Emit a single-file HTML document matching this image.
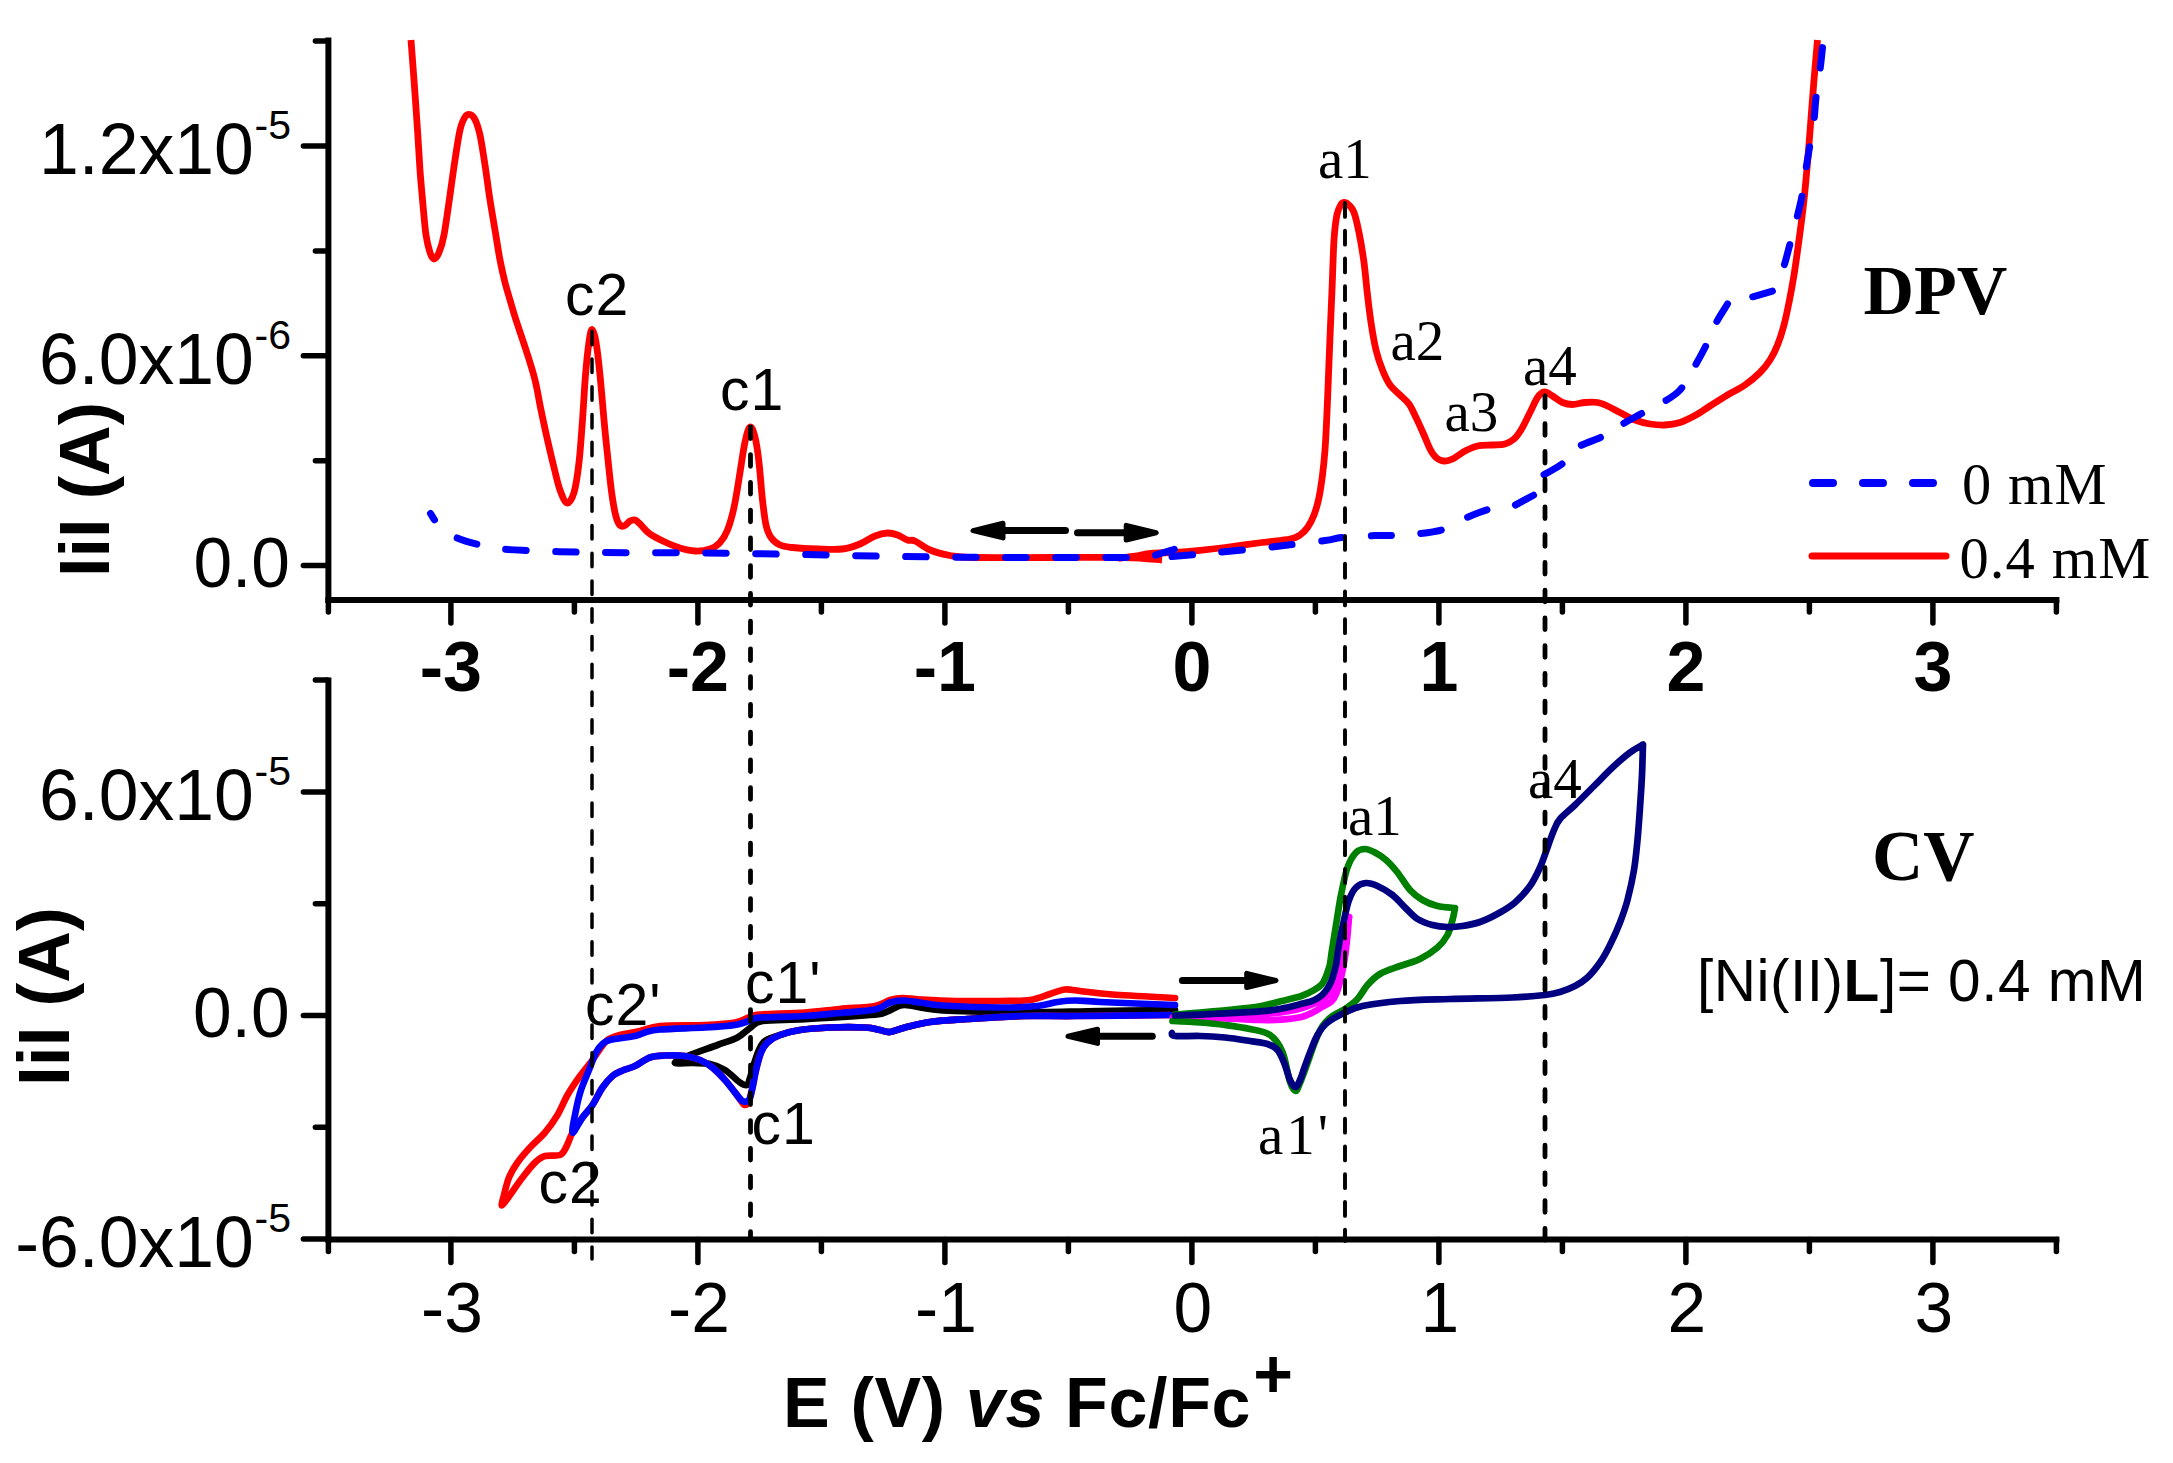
<!DOCTYPE html>
<html><head><meta charset="utf-8"><title>DPV and CV</title>
<style>html,body{margin:0;padding:0;background:#fff}svg{display:block}</style></head>
<body>
<svg width="2173" height="1463" viewBox="0 0 2173 1463">
<rect width="2173" height="1463" fill="#fff"/>
<g stroke="#000" stroke-width="6" fill="none" stroke-linecap="butt">
<path d="M328.4 37.5 V603.0"/>
<path d="M325.4 600.0 H2059.4"/>
<path d="M328.4 677.5 V1242.5"/>
<path d="M325.4 1239.5 H2059.4"/>
</g>
<g stroke="#000" stroke-width="5.5" fill="none" stroke-linecap="round">
<path d="M328.4 600.0 V612.0"/>
<path d="M450.9 600.0 V623.0"/>
<path d="M574.4 600.0 V612.0"/>
<path d="M697.9 600.0 V623.0"/>
<path d="M821.4 600.0 V612.0"/>
<path d="M944.9 600.0 V623.0"/>
<path d="M1068.4 600.0 V612.0"/>
<path d="M1191.9 600.0 V623.0"/>
<path d="M1315.4 600.0 V612.0"/>
<path d="M1438.9 600.0 V623.0"/>
<path d="M1562.4 600.0 V612.0"/>
<path d="M1685.9 600.0 V623.0"/>
<path d="M1809.4 600.0 V612.0"/>
<path d="M1932.9 600.0 V623.0"/>
<path d="M2056.4 600.0 V612.0"/>
<path d="M328.4 1239.5 V1251.5"/>
<path d="M450.9 1239.5 V1262.5"/>
<path d="M574.4 1239.5 V1251.5"/>
<path d="M697.9 1239.5 V1262.5"/>
<path d="M821.4 1239.5 V1251.5"/>
<path d="M944.9 1239.5 V1262.5"/>
<path d="M1068.4 1239.5 V1251.5"/>
<path d="M1191.9 1239.5 V1262.5"/>
<path d="M1315.4 1239.5 V1251.5"/>
<path d="M1438.9 1239.5 V1262.5"/>
<path d="M1562.4 1239.5 V1251.5"/>
<path d="M1685.9 1239.5 V1262.5"/>
<path d="M1809.4 1239.5 V1251.5"/>
<path d="M1932.9 1239.5 V1262.5"/>
<path d="M2056.4 1239.5 V1251.5"/>
<path d="M327.4 565.6 H303.4"/>
<path d="M327.4 460.7 H315.4"/>
<path d="M327.4 355.8 H303.4"/>
<path d="M327.4 250.9 H315.4"/>
<path d="M327.4 146.0 H303.4"/>
<path d="M327.4 41.1 H315.4"/>
<path d="M327.4 1239.1 H303.4"/>
<path d="M327.4 1127.3 H315.4"/>
<path d="M327.4 1015.5 H303.4"/>
<path d="M327.4 903.7 H315.4"/>
<path d="M327.4 791.9 H303.4"/>
<path d="M327.4 680.1 H315.4"/>
</g>
<g stroke="#ff0000" stroke-width="6.8" fill="none" stroke-linejoin="round">
<path d="M411.0 40.0C411.5 46.7 412.9 65.0 414.0 80.0C415.1 95.0 416.5 115.0 417.5 130.0C418.5 145.0 419.1 157.5 420.0 170.0C420.9 182.5 422.0 194.2 423.0 205.0C424.0 215.8 424.8 227.1 426.0 235.0C427.2 242.9 428.7 248.5 430.0 252.5C431.3 256.5 432.5 259.0 434.0 259.0C435.5 259.0 437.3 256.5 439.0 252.5C440.7 248.5 442.2 244.6 444.0 235.0C445.8 225.4 448.2 207.5 450.0 195.0C451.8 182.5 453.3 170.8 455.0 160.0C456.7 149.2 458.3 137.2 460.0 130.0C461.7 122.8 463.3 119.6 465.0 117.0C466.7 114.4 468.3 114.1 470.0 114.5C471.7 114.9 473.3 116.1 475.0 119.5C476.7 122.9 478.3 127.4 480.0 135.0C481.7 142.6 483.3 154.2 485.0 165.0C486.7 175.8 488.3 189.2 490.0 200.0C491.7 210.8 493.3 220.0 495.0 230.0C496.7 240.0 498.3 251.2 500.0 260.0C501.7 268.8 503.3 275.8 505.0 282.5C506.7 289.2 508.2 293.8 510.0 300.0C511.8 306.2 513.3 311.7 516.0 320.0C518.7 328.3 522.8 340.0 526.0 350.0C529.2 360.0 532.5 370.0 535.0 380.0C537.5 390.0 538.9 400.0 541.0 410.0C543.1 420.0 545.3 430.4 547.5 440.0C549.7 449.6 551.9 459.2 554.0 467.5C556.1 475.8 557.8 484.1 560.0 490.0C562.2 495.9 564.7 502.6 567.0 503.0C569.3 503.4 572.0 499.2 574.0 492.5C576.0 485.8 577.6 474.6 579.0 462.5C580.4 450.4 581.4 434.6 582.5 420.0C583.6 405.4 584.4 388.0 585.5 375.0C586.6 362.0 587.9 349.6 589.0 342.0C590.1 334.4 590.8 329.5 592.0 329.5C593.2 329.5 594.7 334.4 596.0 342.0C597.3 349.6 598.7 362.0 600.0 375.0C601.3 388.0 602.8 406.7 604.0 420.0C605.2 433.3 606.3 443.8 607.5 455.0C608.7 466.2 609.8 477.9 611.0 487.5C612.2 497.1 613.7 506.4 615.0 512.5C616.3 518.6 617.5 521.8 619.0 524.0C620.5 526.2 622.2 526.5 624.0 526.0C625.8 525.5 628.2 522.0 630.0 521.0C631.8 520.0 633.3 519.5 635.0 520.0C636.7 520.5 637.5 521.7 640.0 524.0C642.5 526.3 645.8 531.0 650.0 534.0C654.2 537.0 660.0 539.7 665.0 542.0C670.0 544.3 675.0 546.5 680.0 548.0C685.0 549.5 690.0 550.8 695.0 551.0C700.0 551.2 705.8 550.4 710.0 549.0C714.2 547.6 717.1 545.7 720.0 542.5C722.9 539.3 725.2 535.8 727.5 530.0C729.8 524.2 731.9 517.1 734.0 507.5C736.1 497.9 738.2 483.4 740.0 472.5C741.8 461.6 743.3 449.6 745.0 442.0C746.7 434.4 748.3 427.8 750.0 427.0C751.7 426.2 753.5 431.1 755.0 437.0C756.5 442.9 757.8 452.0 759.0 462.5C760.2 473.0 761.3 489.6 762.5 500.0C763.7 510.4 764.6 518.8 766.0 525.0C767.4 531.2 768.7 534.2 771.0 537.5C773.3 540.8 776.4 543.3 780.0 545.0C783.6 546.7 786.2 546.8 792.5 547.5C798.8 548.2 809.2 548.8 817.5 549.0C825.8 549.2 835.4 549.8 842.5 549.0C849.6 548.2 854.6 546.2 860.0 544.0C865.4 541.8 870.4 537.8 875.0 536.0C879.6 534.2 883.8 533.2 887.5 533.0C891.2 532.8 894.2 533.8 897.5 535.0C900.8 536.2 904.6 539.0 907.5 540.0C910.4 541.0 911.2 539.3 915.0 541.0C918.8 542.7 924.2 547.6 930.0 550.0C935.8 552.4 942.5 554.2 950.0 555.5C957.5 556.8 958.3 557.2 975.0 557.5C991.7 557.8 1025.0 557.5 1050.0 557.5C1075.0 557.5 1106.3 557.1 1125.0 557.5C1143.7 557.9 1155.8 559.6 1162.0 560.0"/>
<path d="M1118.0 558.3C1120.8 557.9 1129.5 557.0 1135.0 556.2C1140.5 555.4 1144.3 554.0 1151.0 553.4C1157.7 552.8 1166.8 552.8 1175.0 552.3C1183.2 551.8 1191.7 551.1 1200.0 550.3C1208.3 549.5 1214.7 548.8 1225.0 547.5C1235.3 546.2 1251.2 543.9 1262.0 542.5C1272.8 541.1 1283.7 540.2 1290.0 539.0C1296.3 537.8 1297.1 536.9 1300.0 535.0C1302.9 533.1 1305.2 530.8 1307.5 527.5C1309.8 524.2 1312.1 520.0 1314.0 515.0C1315.9 510.0 1317.6 504.2 1319.0 497.5C1320.4 490.8 1321.5 482.9 1322.5 475.0C1323.5 467.1 1324.2 460.4 1325.0 450.0C1325.8 439.6 1326.4 425.0 1327.0 412.5C1327.6 400.0 1328.0 387.5 1328.5 375.0C1329.0 362.5 1329.4 351.7 1330.0 337.5C1330.6 323.3 1331.3 306.2 1332.0 290.0C1332.7 273.8 1333.2 252.6 1334.0 240.0C1334.8 227.4 1335.8 220.4 1337.0 214.5C1338.2 208.6 1339.8 206.5 1341.0 204.5C1342.2 202.5 1343.2 202.4 1344.5 202.5C1345.8 202.6 1347.4 203.3 1349.0 205.0C1350.6 206.7 1352.3 207.9 1354.0 212.5C1355.7 217.1 1357.3 224.2 1359.0 232.5C1360.7 240.8 1362.6 252.1 1364.0 262.5C1365.4 272.9 1366.3 285.0 1367.5 295.0C1368.7 305.0 1369.6 313.3 1371.0 322.5C1372.4 331.7 1374.1 342.1 1376.0 350.0C1377.9 357.9 1380.2 364.2 1382.5 370.0C1384.8 375.8 1387.1 380.8 1390.0 385.0C1392.9 389.2 1396.8 391.8 1400.0 395.0C1403.2 398.2 1406.3 400.2 1409.0 404.0C1411.7 407.8 1413.5 412.3 1416.0 417.5C1418.5 422.7 1421.7 429.8 1424.0 435.0C1426.3 440.2 1428.0 445.2 1430.0 449.0C1432.0 452.8 1433.7 455.5 1436.0 457.5C1438.3 459.5 1441.2 460.8 1444.0 461.0C1446.8 461.2 1449.0 460.7 1452.5 459.0C1456.0 457.3 1460.8 453.2 1465.0 451.0C1469.2 448.8 1472.9 447.0 1477.5 446.0C1482.1 445.0 1487.9 445.3 1492.5 445.0C1497.1 444.7 1501.4 445.0 1505.0 444.0C1508.6 443.0 1511.3 441.3 1514.0 439.0C1516.7 436.7 1518.3 434.4 1521.0 430.0C1523.7 425.6 1527.2 417.9 1530.0 412.5C1532.8 407.1 1535.1 400.9 1537.5 397.5C1539.9 394.1 1542.0 392.2 1544.5 392.0C1547.0 391.8 1549.5 394.2 1552.5 396.0C1555.5 397.8 1559.2 401.1 1562.5 402.5C1565.8 403.9 1568.8 404.5 1572.5 404.5C1576.2 404.5 1580.8 402.8 1585.0 402.5C1589.2 402.2 1593.8 401.9 1597.5 402.5C1601.2 403.1 1603.8 404.3 1607.5 406.0C1611.2 407.7 1615.4 410.2 1620.0 412.5C1624.6 414.8 1630.0 418.1 1635.0 420.0C1640.0 421.9 1645.0 423.2 1650.0 424.0C1655.0 424.8 1660.0 425.2 1665.0 425.0C1670.0 424.8 1675.0 424.1 1680.0 422.5C1685.0 420.9 1690.0 418.2 1695.0 415.5C1700.0 412.8 1704.6 409.4 1710.0 406.0C1715.4 402.6 1721.7 398.5 1727.5 395.0C1733.3 391.5 1739.6 388.8 1745.0 385.0C1750.4 381.2 1755.8 376.7 1760.0 372.5C1764.2 368.3 1767.1 364.6 1770.0 360.0C1772.9 355.4 1775.2 350.8 1777.5 345.0C1779.8 339.2 1782.1 332.1 1784.0 325.0C1785.9 317.9 1787.3 310.8 1789.0 302.5C1790.7 294.2 1792.3 285.4 1794.0 275.0C1795.7 264.6 1797.3 252.5 1799.0 240.0C1800.7 227.5 1802.6 212.9 1804.0 200.0C1805.4 187.1 1806.4 175.0 1807.5 162.5C1808.6 150.0 1809.4 138.8 1810.5 125.0C1811.6 111.2 1812.8 94.2 1814.0 80.0C1815.2 65.8 1816.9 46.7 1817.5 40.0"/>
</g>
<g stroke="#0000ff" stroke-width="7" fill="none" stroke-linecap="round" stroke-linejoin="round" stroke-dasharray="20.5 29.5" stroke-dashoffset="-3.25">
<path d="M1174.3 549.3C1172.2 549.9 1166.2 551.8 1162.0 553.0C1157.8 554.2 1153.5 556.0 1149.0 556.7C1144.5 557.5 1143.2 557.4 1135.0 557.5C1126.8 557.6 1122.5 557.5 1100.0 557.5C1077.5 557.5 1033.3 557.7 1000.0 557.5C966.7 557.3 933.3 557.0 900.0 556.5C866.7 556.0 833.3 555.1 800.0 554.5C766.7 553.9 733.3 553.3 700.0 553.0C666.7 552.7 624.3 552.8 600.0 552.5C575.7 552.2 566.1 551.8 554.0 551.5C541.9 551.2 536.1 550.9 527.5 550.5C518.9 550.1 510.4 549.9 502.5 549.0C494.6 548.1 487.8 546.9 480.0 545.0C472.2 543.1 462.7 540.5 456.0 537.5C449.3 534.5 444.2 531.0 440.0 527.0C435.8 523.0 432.1 515.8 430.5 513.5" stroke-dashoffset="0.75"/>
<path d="M1171.0 556.7C1175.0 556.3 1184.8 555.5 1195.0 554.5C1205.2 553.5 1217.8 552.4 1232.0 551.0C1246.2 549.6 1264.5 547.8 1280.0 546.0C1295.5 544.2 1314.7 541.9 1325.0 540.5C1335.3 539.1 1333.7 538.3 1342.0 537.5C1350.3 536.7 1366.5 536.0 1375.0 535.6C1383.5 535.2 1386.2 535.7 1393.0 535.4C1399.8 535.1 1407.7 535.0 1416.0 534.0C1424.3 533.0 1435.3 531.9 1443.0 529.5C1450.7 527.1 1454.2 523.0 1462.0 519.6C1469.8 516.2 1482.1 511.0 1489.8 509.1C1497.5 507.2 1501.5 510.0 1508.0 508.1C1514.5 506.2 1524.5 499.9 1529.0 497.6C1533.5 495.3 1534.0 495.0 1535.0 494.5" stroke-dashoffset="-1.25"/>
<path d="M1541.4 476.0C1545.0 473.9 1557.1 467.9 1563.0 463.2C1568.9 458.5 1570.2 452.3 1576.8 447.8C1583.4 443.3 1595.0 440.4 1602.7 436.4C1610.4 432.4 1616.6 427.6 1622.8 423.9C1629.0 420.2 1633.4 418.0 1640.0 414.4C1646.6 410.8 1655.8 406.6 1662.5 402.5C1669.2 398.4 1674.8 395.8 1680.0 390.0C1685.2 384.2 1689.8 374.6 1694.0 367.5C1698.2 360.4 1701.3 354.9 1705.0 347.5C1708.7 340.1 1712.2 330.2 1716.0 323.0C1719.8 315.8 1725.6 307.2 1727.5 304.0" stroke-dasharray="20.5 27.4"/>
<path d="M1727.5 304.0L1773.0 291.0L1773.0 291.0C1774.2 288.3 1778.2 279.2 1780.0 275.0C1781.8 270.8 1782.3 271.2 1784.0 266.0C1785.7 260.8 1787.8 252.1 1790.0 244.0C1792.2 235.9 1795.0 225.5 1797.0 217.5C1799.0 209.5 1800.5 204.1 1802.0 196.0C1803.5 187.9 1804.8 177.1 1806.0 169.0C1807.2 160.9 1808.2 155.7 1809.5 147.5C1810.8 139.3 1812.9 128.3 1814.0 120.0C1815.1 111.7 1815.0 105.8 1816.0 97.5C1817.0 89.2 1818.9 78.3 1820.0 70.0C1821.1 61.7 1822.1 51.2 1822.5 47.5" stroke-dashoffset="23.75"/>
</g>
<path d="M1813 483 H1940" stroke="#0000ff" stroke-width="8" stroke-linecap="round" stroke-dasharray="20 30" fill="none"/>
<path d="M1812 556 H1946" stroke="#ff0000" stroke-width="7" stroke-linecap="round" fill="none"/>
<path d="M1065.5 530.6 H1003.5" stroke="#000" stroke-width="7" stroke-linecap="round" fill="none"/><path d="M973.0 530.6 L1003.0 523.3 L1003.0 537.9 Z" fill="#000" stroke="#000" stroke-width="5" stroke-linejoin="round"/>
<path d="M1077.5 532.7 H1125.7" stroke="#000" stroke-width="7" stroke-linecap="round" fill="none"/><path d="M1156.2 532.7 L1126.2 525.4 L1126.2 540.0 Z" fill="#000" stroke="#000" stroke-width="5" stroke-linejoin="round"/>
<path d="M1182.4 980.5 H1246.2" stroke="#000" stroke-width="7" stroke-linecap="round" fill="none"/><path d="M1276.0 980.5 L1246.7 973.4 L1246.7 987.6 Z" fill="#000" stroke="#000" stroke-width="5" stroke-linejoin="round"/>
<path d="M1152.3 1036.3 H1098.0" stroke="#000" stroke-width="7" stroke-linecap="round" fill="none"/><path d="M1068.0 1036.3 L1097.5 1029.2 L1097.5 1043.4 Z" fill="#000" stroke="#000" stroke-width="5" stroke-linejoin="round"/>
<g fill="none" stroke-width="6.7" stroke-linejoin="round" stroke-linecap="round">
<path d="M1175.0 1012.0C1162.5 1012.3 1125.3 1013.3 1100.0 1014.0C1074.7 1014.7 1045.1 1015.2 1023.0 1016.0C1000.9 1016.8 983.0 1018.0 967.5 1019.0C952.0 1020.0 940.4 1020.6 930.0 1022.0C919.6 1023.4 911.7 1025.8 905.0 1027.5C898.3 1029.2 894.2 1031.6 890.0 1032.0C885.8 1032.4 884.2 1030.8 880.0 1030.0C875.8 1029.2 873.3 1027.9 865.0 1027.5C856.7 1027.1 840.8 1027.1 830.0 1027.5C819.2 1027.9 808.3 1028.8 800.0 1030.0C791.7 1031.2 785.8 1033.2 780.0 1035.0C774.2 1036.8 768.5 1038.5 765.0 1041.0C761.5 1043.5 760.8 1046.2 759.0 1050.0C757.2 1053.8 755.5 1059.3 754.0 1064.0C752.5 1068.7 751.2 1074.5 750.0 1078.0C748.8 1081.5 748.7 1084.2 747.0 1085.0C745.3 1085.8 743.7 1085.0 740.0 1082.5C736.3 1080.0 730.0 1073.1 725.0 1070.0C720.0 1066.9 715.4 1065.2 710.0 1064.0C704.6 1062.8 698.3 1063.2 692.5 1063.0C686.7 1062.8 675.8 1064.2 675.0 1063.0C674.2 1061.8 680.4 1059.0 687.5 1056.0C694.6 1053.0 709.2 1048.1 717.5 1045.0C725.8 1041.9 732.1 1040.3 737.5 1037.5C742.9 1034.7 745.8 1030.8 750.0 1028.0C754.2 1025.2 753.3 1022.5 762.5 1021.0C771.7 1019.5 787.1 1020.2 805.0 1019.2C822.9 1018.2 856.7 1016.1 870.0 1015.0C883.3 1013.9 880.0 1014.1 885.0 1012.5C890.0 1010.9 895.8 1006.7 900.0 1005.5C904.2 1004.3 905.0 1004.9 910.0 1005.5C915.0 1006.1 922.5 1008.1 930.0 1009.0C937.5 1009.9 939.5 1010.4 955.0 1011.0C970.5 1011.6 998.8 1012.5 1023.0 1012.5C1047.2 1012.5 1074.7 1011.4 1100.0 1011.0C1125.3 1010.6 1162.5 1010.2 1175.0 1010.0" stroke="#000"/>
<path d="M1175.0 998.0C1164.6 997.4 1128.3 995.7 1112.5 994.5C1096.7 993.3 1087.9 991.8 1080.0 991.0C1072.1 990.2 1070.0 989.0 1065.0 989.5C1060.0 990.0 1055.8 992.2 1050.0 994.0C1044.2 995.8 1038.3 998.8 1030.0 1000.0C1021.7 1001.2 1012.5 1000.8 1000.0 1001.0C987.5 1001.2 968.3 1001.2 955.0 1001.0C941.7 1000.8 928.8 1000.0 920.0 999.5C911.2 999.0 907.5 997.9 902.5 998.0C897.5 998.1 894.6 998.7 890.0 1000.0C885.4 1001.3 883.3 1004.5 875.0 1006.0C866.7 1007.5 851.7 1007.9 840.0 1009.0C828.3 1010.1 818.3 1011.6 805.0 1012.5C791.7 1013.4 769.2 1013.8 760.0 1014.5C750.8 1015.2 754.2 1015.7 750.0 1017.0C745.8 1018.3 742.5 1021.2 735.0 1022.5C727.5 1023.8 717.5 1024.4 705.0 1025.0C692.5 1025.6 670.8 1025.0 660.0 1026.0C649.2 1027.0 646.7 1029.5 640.0 1031.0C633.3 1032.5 625.4 1033.5 620.0 1035.0C614.6 1036.5 610.8 1037.7 607.5 1040.0C604.2 1042.3 602.5 1045.7 600.0 1049.0C597.5 1052.3 595.8 1055.5 592.5 1060.0C589.2 1064.5 584.2 1070.2 580.0 1076.0C575.8 1081.8 571.2 1088.5 567.5 1095.0C563.8 1101.5 561.2 1108.8 557.5 1115.0C553.8 1121.2 549.6 1127.1 545.0 1132.5C540.4 1137.9 534.6 1142.5 530.0 1147.5C525.4 1152.5 521.0 1157.5 517.5 1162.5C514.0 1167.5 511.2 1172.1 509.0 1177.5C506.8 1182.9 505.2 1190.3 504.0 1195.0C502.8 1199.7 501.0 1205.5 502.0 1205.5C503.0 1205.5 506.6 1199.7 510.0 1195.0C513.4 1190.3 518.3 1182.9 522.5 1177.5C526.7 1172.1 531.2 1166.1 535.0 1162.5C538.8 1158.9 540.8 1157.2 545.0 1156.0C549.2 1154.8 556.5 1156.4 560.0 1155.0C563.5 1153.6 563.9 1151.2 566.0 1147.5C568.1 1143.8 569.8 1137.5 572.5 1132.5C575.2 1127.5 579.2 1122.1 582.5 1117.5C585.8 1112.9 589.2 1110.0 592.5 1105.0C595.8 1100.0 599.2 1092.3 602.5 1087.5C605.8 1082.7 609.2 1078.8 612.5 1076.0C615.8 1073.2 618.8 1072.2 622.5 1070.5C626.2 1068.8 630.4 1068.2 635.0 1066.0C639.6 1063.8 645.0 1059.2 650.0 1057.5C655.0 1055.8 659.2 1055.8 665.0 1055.5C670.8 1055.2 679.2 1055.2 685.0 1056.0C690.8 1056.8 695.4 1058.1 700.0 1060.0C704.6 1061.9 708.3 1064.2 712.5 1067.5C716.7 1070.8 721.2 1075.8 725.0 1080.0C728.8 1084.2 732.3 1089.0 735.0 1092.5C737.7 1096.0 739.3 1098.9 741.0 1101.0C742.7 1103.1 743.7 1105.0 745.0 1105.0C746.3 1105.0 747.8 1103.9 749.0 1101.0C750.2 1098.1 751.3 1092.7 752.5 1087.5C753.7 1082.3 754.6 1075.8 756.0 1070.0C757.4 1064.2 759.1 1057.1 761.0 1052.5C762.9 1047.9 764.3 1045.4 767.5 1042.5C770.7 1039.6 774.6 1037.1 780.0 1035.0C785.4 1032.9 791.7 1031.2 800.0 1030.0C808.3 1028.8 819.2 1027.9 830.0 1027.5C840.8 1027.1 856.7 1027.1 865.0 1027.5C873.3 1027.9 875.8 1029.2 880.0 1030.0C884.2 1030.8 885.8 1032.4 890.0 1032.0C894.2 1031.6 898.3 1029.2 905.0 1027.5C911.7 1025.8 919.6 1023.4 930.0 1022.0C940.4 1020.6 952.0 1020.0 967.5 1019.0C983.0 1018.0 1005.1 1016.5 1023.0 1016.0C1040.9 1015.5 1050.5 1016.2 1075.0 1016.0C1099.5 1015.8 1154.2 1015.2 1170.0 1015.0" stroke="#ff0000"/>
<path d="M1175.0 1005.0C1162.5 1004.5 1116.7 1002.8 1100.0 1002.0C1083.3 1001.2 1082.1 1000.5 1075.0 1000.5C1067.9 1000.5 1063.8 1001.1 1057.5 1002.0C1051.2 1002.9 1047.1 1005.1 1037.5 1006.0C1027.9 1006.9 1015.8 1007.6 1000.0 1007.5C984.2 1007.4 955.8 1006.3 942.5 1005.5C929.2 1004.7 926.7 1003.3 920.0 1002.5C913.3 1001.7 907.5 1000.5 902.5 1000.5C897.5 1000.5 894.6 1001.0 890.0 1002.5C885.4 1004.0 883.3 1007.8 875.0 1009.5C866.7 1011.2 851.7 1011.9 840.0 1013.0C828.3 1014.1 818.3 1015.2 805.0 1016.0C791.7 1016.8 769.2 1016.8 760.0 1017.5C750.8 1018.2 754.2 1019.2 750.0 1020.5C745.8 1021.8 742.5 1023.8 735.0 1025.0C727.5 1026.2 717.5 1026.8 705.0 1027.5C692.5 1028.2 670.0 1028.7 660.0 1029.5C650.0 1030.3 649.2 1031.4 645.0 1032.5C640.8 1033.6 640.8 1034.8 635.0 1036.0C629.2 1037.2 615.4 1038.7 610.0 1040.0C604.6 1041.3 604.8 1041.9 602.5 1044.0C600.2 1046.1 598.2 1048.2 596.0 1052.5C593.8 1056.8 591.5 1063.8 589.0 1070.0C586.5 1076.2 583.2 1083.3 581.0 1090.0C578.8 1096.7 577.4 1102.9 576.0 1110.0C574.6 1117.1 571.4 1131.2 572.5 1132.5C573.6 1133.8 579.2 1122.1 582.5 1117.5C585.8 1112.9 589.2 1110.0 592.5 1105.0C595.8 1100.0 599.2 1092.3 602.5 1087.5C605.8 1082.7 609.2 1078.8 612.5 1076.0C615.8 1073.2 618.8 1072.2 622.5 1070.5C626.2 1068.8 630.4 1068.2 635.0 1066.0C639.6 1063.8 645.0 1059.2 650.0 1057.5C655.0 1055.8 659.2 1055.8 665.0 1055.5C670.8 1055.2 679.2 1055.2 685.0 1056.0C690.8 1056.8 695.4 1058.1 700.0 1060.0C704.6 1061.9 708.3 1064.2 712.5 1067.5C716.7 1070.8 721.2 1075.8 725.0 1080.0C728.8 1084.2 732.1 1089.0 735.0 1092.5C737.9 1096.0 740.2 1099.8 742.5 1101.0C744.8 1102.2 747.3 1102.2 749.0 1100.0C750.7 1097.8 751.3 1092.5 752.5 1087.5C753.7 1082.5 754.6 1075.8 756.0 1070.0C757.4 1064.2 759.1 1057.1 761.0 1052.5C762.9 1047.9 764.3 1045.4 767.5 1042.5C770.7 1039.6 774.6 1037.1 780.0 1035.0C785.4 1032.9 791.7 1031.2 800.0 1030.0C808.3 1028.8 819.2 1027.9 830.0 1027.5C840.8 1027.1 856.7 1027.1 865.0 1027.5C873.3 1027.9 875.8 1029.2 880.0 1030.0C884.2 1030.8 885.8 1032.4 890.0 1032.0C894.2 1031.6 898.3 1029.2 905.0 1027.5C911.7 1025.8 919.6 1023.4 930.0 1022.0C940.4 1020.6 952.0 1020.0 967.5 1019.0C983.0 1018.0 1005.1 1016.5 1023.0 1016.0C1040.9 1015.5 1050.5 1016.2 1075.0 1016.0C1099.5 1015.8 1154.2 1015.2 1170.0 1015.0" stroke="#0000ff"/>
<path d="M1173.0 1017.5C1181.7 1017.2 1210.5 1016.6 1225.0 1016.0C1239.5 1015.4 1250.7 1014.6 1260.0 1014.0C1269.3 1013.4 1273.8 1013.4 1280.7 1012.4C1287.6 1011.4 1295.9 1009.8 1301.4 1008.3C1306.9 1006.8 1310.5 1005.1 1313.9 1003.7C1317.4 1002.3 1319.7 1001.4 1322.1 1000.0C1324.5 998.6 1326.3 997.5 1328.4 995.2C1330.5 993.0 1333.0 989.3 1334.6 986.5C1336.2 983.7 1336.9 981.3 1337.9 978.6C1338.9 975.9 1339.7 972.8 1340.4 970.4C1341.2 968.0 1341.8 967.4 1342.4 964.0C1343.0 960.6 1343.3 955.7 1344.0 950.0C1344.7 944.3 1345.7 935.5 1346.5 930.0C1347.3 924.5 1348.6 919.2 1349.0 917.0" stroke="#ff00ff"/>
<path d="M1349.0 917.0C1348.7 920.8 1347.8 932.8 1347.0 940.0C1346.2 947.2 1345.6 953.3 1344.5 960.0C1343.4 966.7 1341.8 974.5 1340.5 980.0C1339.2 985.5 1338.0 989.5 1336.5 993.1C1335.0 996.7 1333.9 999.1 1331.5 1001.4C1329.1 1003.7 1325.0 1005.1 1322.1 1006.8C1319.2 1008.5 1317.4 1010.1 1313.9 1011.8C1310.5 1013.5 1306.9 1015.7 1301.4 1017.0C1295.9 1018.3 1287.6 1019.2 1280.7 1019.7C1273.8 1020.2 1269.3 1020.2 1260.0 1020.0C1250.7 1019.8 1239.5 1018.9 1225.0 1018.5C1210.5 1018.1 1181.7 1017.7 1173.0 1017.5" stroke="#ff00ff"/>
<path d="M1175.0 1014.5C1179.2 1014.2 1190.8 1013.3 1200.0 1012.5C1209.2 1011.7 1220.0 1010.8 1230.0 1009.8C1240.0 1008.8 1251.5 1007.7 1260.0 1006.3C1268.5 1004.9 1273.8 1002.9 1280.7 1001.2C1287.6 999.5 1295.9 997.8 1301.4 996.0C1306.9 994.2 1310.5 992.2 1313.9 990.2C1317.4 988.2 1320.0 986.4 1322.1 984.0C1324.2 981.6 1325.2 978.1 1326.3 975.7C1327.3 973.3 1327.8 971.4 1328.4 969.5C1329.0 967.6 1329.4 967.4 1330.0 964.1C1330.6 960.9 1331.0 956.5 1332.0 950.0C1333.0 943.5 1334.5 934.2 1336.0 925.0C1337.5 915.8 1339.1 904.6 1341.0 895.0C1342.9 885.4 1345.0 874.6 1347.5 867.5C1350.0 860.4 1353.1 855.6 1356.0 852.5C1358.9 849.4 1361.8 849.0 1365.0 849.0C1368.2 849.0 1371.5 850.7 1375.0 852.5C1378.5 854.3 1382.2 856.7 1386.0 860.0C1389.8 863.3 1393.5 867.5 1397.5 872.5C1401.5 877.5 1405.8 885.4 1410.0 890.0C1414.2 894.6 1417.9 897.3 1422.5 900.0C1427.1 902.7 1432.1 904.7 1437.5 906.0C1442.9 907.3 1452.1 907.7 1455.0 908.0L1455.0 908.0C1454.6 910.0 1453.8 915.5 1452.5 920.0C1451.2 924.5 1450.0 930.4 1447.5 935.0C1445.0 939.6 1442.1 943.5 1437.5 947.5C1432.9 951.5 1426.2 955.9 1420.0 959.0C1413.8 962.1 1406.7 963.5 1400.0 966.0C1393.3 968.5 1385.4 970.8 1380.0 974.0C1374.6 977.2 1371.2 980.8 1367.5 985.0C1363.8 989.2 1361.2 995.0 1357.5 999.0C1353.8 1003.0 1349.2 1006.2 1345.0 1009.0C1340.8 1011.8 1336.2 1013.2 1332.5 1016.0C1328.8 1018.8 1325.4 1021.7 1322.5 1026.0C1319.6 1030.3 1317.5 1035.8 1315.0 1042.0C1312.5 1048.2 1310.0 1056.2 1307.5 1063.0C1305.0 1069.8 1302.0 1078.3 1300.0 1083.0C1298.0 1087.7 1297.2 1091.2 1295.5 1091.0C1293.8 1090.8 1292.2 1088.5 1290.0 1082.0C1287.8 1075.5 1285.8 1059.8 1282.5 1052.0C1279.2 1044.2 1275.4 1038.8 1270.0 1035.0C1264.6 1031.2 1257.5 1030.7 1250.0 1029.0C1242.5 1027.3 1233.3 1026.1 1225.0 1025.0C1216.7 1023.9 1208.8 1023.2 1200.0 1022.5C1191.2 1021.8 1177.1 1021.2 1172.5 1021.0" stroke="#008000"/>
<path d="M1175.0 1015.5C1179.2 1015.4 1190.8 1015.0 1200.0 1014.6C1209.2 1014.2 1220.0 1013.7 1230.0 1013.2C1240.0 1012.7 1251.5 1012.1 1260.0 1011.4C1268.5 1010.6 1273.8 1010.0 1280.7 1008.7C1287.6 1007.4 1295.9 1005.2 1301.4 1003.8C1306.9 1002.4 1310.5 1001.7 1313.9 1000.2C1317.4 998.7 1319.9 996.9 1322.1 995.0C1324.3 993.1 1325.7 991.0 1327.1 989.0C1328.5 987.0 1329.4 985.3 1330.4 983.2C1331.4 981.1 1332.2 978.7 1332.9 976.6C1333.6 974.5 1334.0 972.5 1334.6 970.4C1335.1 968.3 1335.5 968.3 1336.2 964.1C1336.9 959.9 1337.7 952.4 1339.0 945.0C1340.3 937.6 1342.3 927.5 1344.0 920.0C1345.7 912.5 1347.0 905.4 1349.0 900.0C1351.0 894.6 1353.2 890.3 1356.0 887.5C1358.8 884.7 1362.4 883.2 1366.0 883.0C1369.6 882.8 1373.1 884.0 1377.5 886.0C1381.9 888.0 1387.9 891.4 1392.5 895.0C1397.1 898.6 1400.8 903.5 1405.0 907.5C1409.2 911.5 1412.9 916.1 1417.5 919.0C1422.1 921.9 1427.5 923.7 1432.5 925.0C1437.5 926.3 1442.5 926.8 1447.5 927.0C1452.5 927.2 1457.1 926.8 1462.5 926.0C1467.9 925.2 1473.8 924.2 1480.0 922.0C1486.2 919.8 1494.2 915.8 1500.0 912.5C1505.8 909.2 1510.0 906.9 1515.0 902.5C1520.0 898.1 1525.8 891.8 1530.0 886.0C1534.2 880.2 1537.1 873.9 1540.0 867.5C1542.9 861.1 1545.2 853.8 1547.5 847.5C1549.8 841.2 1551.9 834.8 1554.0 830.0C1556.1 825.2 1556.5 823.2 1560.0 819.0C1563.5 814.8 1569.2 810.7 1575.0 805.0C1580.8 799.3 1588.8 791.2 1595.0 785.0C1601.2 778.8 1606.7 772.9 1612.5 767.5C1618.3 762.1 1624.9 756.3 1630.0 752.5C1635.1 748.7 1640.8 745.8 1643.0 744.5L1643.0 744.5C1642.8 749.6 1642.4 765.8 1642.0 775.0C1641.6 784.2 1641.2 789.2 1640.5 800.0C1639.8 810.8 1638.6 828.3 1637.5 840.0C1636.4 851.7 1635.7 860.0 1634.0 870.0C1632.3 880.0 1629.8 891.2 1627.5 900.0C1625.2 908.8 1622.9 915.0 1620.0 922.5C1617.1 930.0 1613.3 938.3 1610.0 945.0C1606.7 951.7 1603.8 957.1 1600.0 962.5C1596.2 967.9 1591.7 973.6 1587.5 977.5C1583.3 981.4 1579.6 983.6 1575.0 986.0C1570.4 988.4 1565.0 990.5 1560.0 992.0C1555.0 993.5 1552.9 994.1 1545.0 995.0C1537.1 995.9 1528.3 996.8 1512.5 997.5C1496.7 998.2 1468.8 998.4 1450.0 999.0C1431.2 999.6 1414.6 999.8 1400.0 1001.0C1385.4 1002.2 1371.7 1004.1 1362.5 1006.0C1353.3 1007.9 1350.8 1009.8 1345.0 1012.5C1339.2 1015.2 1332.1 1018.8 1327.5 1022.5C1322.9 1026.2 1320.4 1030.0 1317.5 1035.0C1314.6 1040.0 1312.1 1047.3 1310.0 1052.5C1307.9 1057.7 1306.7 1061.4 1305.0 1066.0C1303.3 1070.6 1301.6 1076.5 1300.0 1080.0C1298.4 1083.5 1297.2 1087.0 1295.5 1087.0C1293.8 1087.0 1291.9 1084.1 1290.0 1080.0C1288.1 1075.9 1286.1 1067.5 1284.0 1062.5C1281.9 1057.5 1280.2 1053.1 1277.5 1050.0C1274.8 1046.9 1272.1 1045.5 1267.5 1044.0C1262.9 1042.5 1257.1 1042.1 1250.0 1041.0C1242.9 1039.9 1233.3 1038.3 1225.0 1037.5C1216.7 1036.7 1208.3 1036.2 1200.0 1036.0C1191.7 1035.8 1179.7 1036.5 1175.0 1036.0C1170.3 1035.5 1172.5 1033.5 1172.0 1033.0" stroke="#000080"/>
</g>
<g stroke="#000" fill="none" stroke-linecap="round">
<path d="M592.0 331.2 V1259.0" stroke-width="3.5" stroke-dasharray="13.50 14.25"/>
<path d="M750.5 426.9 V1237.0" stroke-width="4.8" stroke-dasharray="11.70 16.05"/>
<path d="M1345.0 203.0 V1241.0" stroke-width="3.9" stroke-dasharray="13.90 13.85"/>
<path d="M1545.0 395.9 V1240.0" stroke-width="4.8" stroke-dasharray="11.70 16.05"/>
</g>
<g font-family='"Liberation Sans", sans-serif' fill="#000">
<text x="253.8" y="173.7" font-size="71.5" text-anchor="end">1.2x10</text><text x="254.5" y="138.7" font-size="41" text-anchor="start">-5</text>
<text x="253.8" y="383.5" font-size="71.5" text-anchor="end">6.0x10</text><text x="254.5" y="348.5" font-size="41" text-anchor="start">-6</text>
<text x="290" y="586.8" font-size="69.5" text-anchor="end">0.0</text>
<text x="253.8" y="819.6" font-size="71.5" text-anchor="end">6.0x10</text><text x="254.5" y="784.6" font-size="41" text-anchor="start">-5</text>
<text x="289.6" y="1037.3" font-size="69.5" text-anchor="end">0.0</text>
<text x="253.8" y="1266.8" font-size="71.5" text-anchor="end">-6.0x10</text><text x="254.5" y="1231.8" font-size="41" text-anchor="start">-5</text>
<text x="450.9" y="690.5" font-size="70" font-weight="bold" text-anchor="middle">-3</text>
<text x="451.9" y="1331.5" font-size="69.5" text-anchor="middle">-3</text>
<text x="697.9" y="690.5" font-size="70" font-weight="bold" text-anchor="middle">-2</text>
<text x="698.9" y="1331.5" font-size="69.5" text-anchor="middle">-2</text>
<text x="944.9" y="690.5" font-size="70" font-weight="bold" text-anchor="middle">-1</text>
<text x="945.9" y="1331.5" font-size="69.5" text-anchor="middle">-1</text>
<text x="1191.9" y="690.5" font-size="70" font-weight="bold" text-anchor="middle">0</text>
<text x="1192.9" y="1331.5" font-size="69.5" text-anchor="middle">0</text>
<text x="1438.9" y="690.5" font-size="70" font-weight="bold" text-anchor="middle">1</text>
<text x="1439.9" y="1331.5" font-size="69.5" text-anchor="middle">1</text>
<text x="1685.9" y="690.5" font-size="70" font-weight="bold" text-anchor="middle">2</text>
<text x="1686.9" y="1331.5" font-size="69.5" text-anchor="middle">2</text>
<text x="1932.9" y="690.5" font-size="70" font-weight="bold" text-anchor="middle">3</text>
<text x="1933.9" y="1331.5" font-size="69.5" text-anchor="middle">3</text>
<text transform="translate(109 577) rotate(-90)" font-size="70" font-weight="bold">IiI (A)</text>
<text transform="translate(68.5 1086) rotate(-90)" font-size="71.5" font-weight="bold">IiI (A)</text>
<text x="783" y="1427" font-size="70" font-weight="bold" letter-spacing="0.65">E (V) <tspan font-style="italic">vs</tspan> Fc/Fc<tspan dx="2" dy="-30" font-size="68">+</tspan></text>
<text x="565.0" y="314.5" font-size="59" letter-spacing="1">c2</text>
<text x="720.0" y="410.0" font-size="59" letter-spacing="1">c1</text>
<text x="585.0" y="1025.0" font-size="59" letter-spacing="1">c2'</text>
<text x="745.0" y="1003.0" font-size="59" letter-spacing="1">c1'</text>
<text x="751.5" y="1144.0" font-size="59" letter-spacing="1">c1</text>
<text x="538.5" y="1202.5" font-size="59" letter-spacing="1">c2</text>
<text x="1697" y="1000.5" font-size="58.5" letter-spacing="0.52">[Ni(II)<tspan font-weight="bold">L</tspan>]= 0.4 mM</text>
</g>
<g font-family='"Liberation Serif", serif' fill="#000">
<text x="1318.0" y="178.0" font-size="57">a1</text>
<text x="1390.5" y="360.0" font-size="57">a2</text>
<text x="1444.5" y="430.5" font-size="57">a3</text>
<text x="1523.0" y="385.0" font-size="57">a4</text>
<text x="1348.0" y="835.0" font-size="57">a1</text>
<text x="1528.0" y="797.5" font-size="57">a4</text>
<text x="1258.0" y="1153.5" font-size="57" letter-spacing="3">a1'</text>
<text x="1863.5" y="314" font-size="70" font-weight="bold">DPV</text>
<text x="1872" y="880" font-size="71" font-weight="bold">CV</text>
<text x="1962" y="504" font-size="58.5" letter-spacing="1">0 mM</text>
<text x="1959.5" y="577.5" font-size="58.5" letter-spacing="1.1">0.4 mM</text>
</g>
</svg>
</body></html>
